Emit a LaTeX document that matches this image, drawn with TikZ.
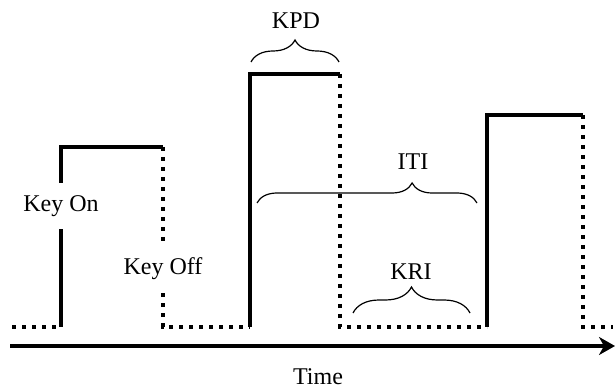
\documentclass[tikz,border=0pt]{standalone}
\usepackage{fontspec}
\setmainfont{Liberation Serif}
\usetikzlibrary{positioning,arrows.meta,decorations.pathreplacing}

\begin{document}
\begin{tikzpicture}[x=0.5pt, y=-0.5pt, font=\fontsize{12}{14}\selectfont,
    on/.style={line width=2pt, line join=miter},
    off/.style={line width=2pt, dash pattern=on 2pt off 3pt},
    brc/.style={decorate, decoration={brace, amplitude=#1}, line width=0.6pt},
    lbl/.style={inner sep=0pt}]
    \useasboundingbox (0,0) rectangle (615,389);

    %% Pulse corners
    \coordinate (s0) at (12,327);
    \coordinate (b1) at (61,327);
    \coordinate (t1) at (61,147);
    \coordinate (r1) at (163,147);
    \coordinate (f1) at (163,327);
    \coordinate (b2) at (250,327);
    \coordinate (t2) at (250,74);
    \coordinate (r2) at (340,74);
    \coordinate (f2) at (340,327);
    \coordinate (b3) at (487,327);
    \coordinate (t3) at (487,115);
    \coordinate (r3) at (583,115);
    \coordinate (f3) at (583,327);
    \coordinate (s1) at (613,327);

    \node[lbl, minimum height=23pt] (on1) at (61,206) {Key On};
    \node[lbl, minimum height=24pt] (off1) at (163,269) {Key Off};

    %% Key 1
    \draw[off] (s0) -- (b1);
    \draw[on] (b1) -- (on1) -- (t1) -- (r1);
    \draw[off] (r1) -- (off1) -- (f1) -- (b2);
    %% Key 2
    \draw[on] (b2) -- (t2) -- (r2);
    \draw[off] (r2) -- (f2) -- (b3);
    %% Key 3
    \draw[on] (b3) -- (t3) -- (r3);
    \draw[off] (r3) -- (f3) -- (s1);

    %% Time axis
    \coordinate (ax0) at (10,346);
    \coordinate (ax1) at (615,346);
    \draw[on, -{Stealth[length=8pt, width=9pt, inset=2.5pt]}] (ax0) -- (ax1);
    \node (time) at (318,377) {Time};

    %% Intervals
    \coordinate (kpdL) at (251,62);
    \coordinate (kpdR) at (339,62);
    \draw[brc=11pt] (kpdL) -- (kpdR);
    \node (kpd) at (296,21) {KPD};

    \coordinate (itiL) at (257,203);
    \coordinate (itiR) at (477,203);
    \draw[brc=10pt, decoration={aspect=0.705}] (itiL) -- (itiR);
    \node (iti) at (413,162) {ITI};

    \coordinate (kriL) at (353,313);
    \coordinate (kriR) at (470,313);
    \draw[brc=13pt] (kriL) -- (kriR);
    \node (kri) at (411,272) {KRI};
\end{tikzpicture}
\end{document}
